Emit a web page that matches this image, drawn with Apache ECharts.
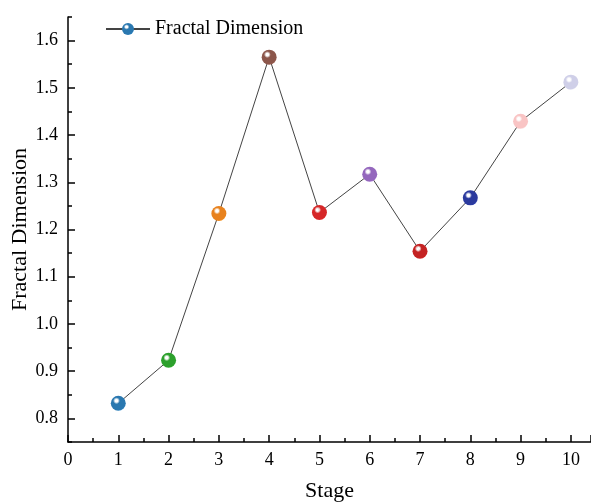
<!DOCTYPE html>
<html><head><meta charset="utf-8">
<script src="https://cdn.jsdelivr.net/npm/echarts@6/dist/echarts.min.js"></script>
<style>html,body{margin:0;padding:0;background:#fff}#c{width:591px;height:503px}</style>
</head><body><div id="c"></div>
<script>
const stages = [1,2,3,4,5,6,7,8,9,10];
const fractalDim = [0.832,0.923,1.234,1.565,1.236,1.317,1.154,1.267,1.429,1.512];
const pointColors = ['#2a78b0','#2ca02c','#e8821e','#8c564b','#d62728','#9467bd','#c42222','#2b3a9e','#f9c4c4','#cfcfe8'];
const yMajorTicks = [0.8,0.9,1.0,1.1,1.2,1.3,1.4,1.5,1.6];
const yMinorTicks = [0.75,0.85,0.95,1.05,1.15,1.25,1.35,1.45,1.55,1.65];
const seriesName = 'Fractal Dimension';

function sphere(c){
  return {type:'radial',x:0.38,y:0.33,r:0.75,colorStops:[
    {offset:0,color:'#ffffff'},{offset:0.12,color:'rgba(255,255,255,0.85)'},{offset:0.3,color:c},{offset:0.85,color:c},{offset:1,color:echarts.color.lift(c,-0.25)}]};
}
const font = 'Liberation Serif';
const axLine = {show:true,lineStyle:{color:'#000',width:1.5}};
const chart = echarts.init(document.getElementById('c'));
chart.setOption({
  animation:false,
  backgroundColor:'#fff',
  legend:{left:100,top:14,itemWidth:44,itemHeight:15,itemGap:4,
    textStyle:{fontFamily:font,fontSize:20,color:'#000'},data:[seriesName]},
  grid:{left:68,right:0,top:17,bottom:61,containLabel:false,outerBoundsMode:'none'},
  xAxis:{type:'value',min:0,max:10.4,interval:1,name:'Stage',nameLocation:'middle',nameGap:38,
    nameMoveOverlap:false,
    nameTextStyle:{fontFamily:font,fontSize:22,color:'#000'},
    axisLine:axLine,
    axisTick:{show:true,inside:true,length:7,lineStyle:{color:'#000',width:1.5}},
    minorTick:{show:true,splitNumber:2,length:4,lineStyle:{color:'#000',width:1.5}},
    axisLabel:{fontFamily:font,fontSize:18,color:'#000',margin:9,showMaxLabel:false},
    splitLine:{show:false}},
  yAxis:[{type:'value',min:0.75,max:1.65,interval:0.05,name:'Fractal Dimension',nameLocation:'middle',nameGap:37,
    nameMoveOverlap:false,
    nameTextStyle:{fontFamily:font,fontSize:22,color:'#000'},
    axisLine:axLine,
    axisTick:{show:true,inside:true,length:7,lineStyle:{color:'#000',width:1.5},customValues:yMajorTicks},
    minorTick:{show:false},
    axisLabel:{fontFamily:font,fontSize:18,color:'#000',margin:10,customValues:yMajorTicks,
      formatter:v=>v.toFixed(1)},
    splitLine:{show:false}},
   {type:'value',min:0.75,max:1.65,interval:0.05,position:'left',
    axisLine:{show:false},
    axisTick:{show:true,inside:true,length:4,lineStyle:{color:'#000',width:1.5},customValues:yMinorTicks},
    axisLabel:{show:false},splitLine:{show:false}}],
  series:[{
    name:seriesName,type:'line',
    data:stages.map((s,i)=>({value:[s,fractalDim[i]],itemStyle:{color:sphere(pointColors[i])}})),
    symbol:'circle',symbolSize:15,
    lineStyle:{color:'#444',width:1},
    itemStyle:{color:sphere(pointColors[0]),borderWidth:0}
  }]
});
</script></body></html>
